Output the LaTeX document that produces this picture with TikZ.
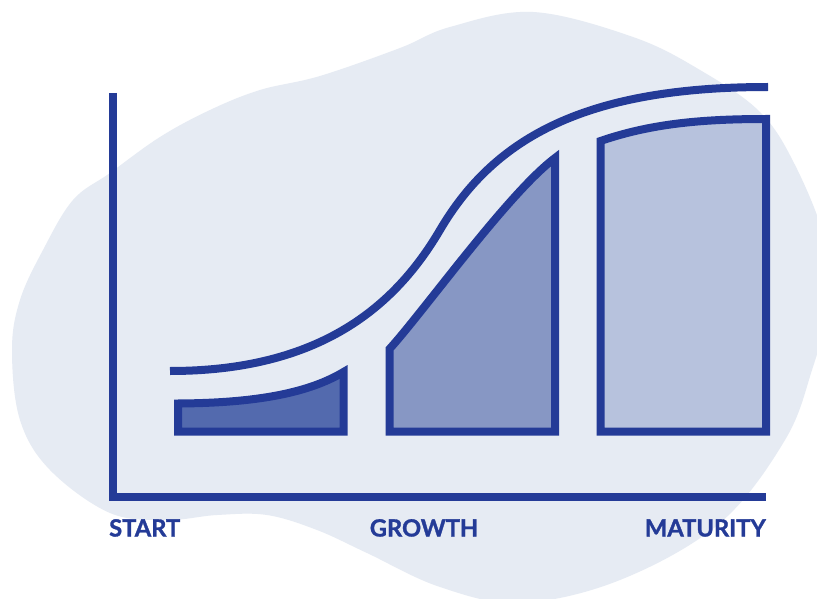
\documentclass[tikz,border=0pt]{standalone}
\usepackage{fontspec}
\setmainfont{Lato}
\newfontfamily\stagefont{Lato}[BoldFeatures={FakeBold=1.3}]
\definecolor{chartblue}{HTML}{243B97}
\definecolor{blobgray}{HTML}{E6EBF3}
\definecolor{barone}{HTML}{536AAE}
\definecolor{bartwo}{HTML}{8797C4}
\definecolor{barthree}{HTML}{B7C2DD}
\begin{document}
\begin{tikzpicture}[x=1pt, y=-1pt, line join=miter,
  ink/.style={draw=chartblue, line width=8pt},
  stagelabel/.style={inner sep=0pt, text=chartblue,
    font=\stagefont\fontsize{23.7}{24}\selectfont\bfseries}]
  \useasboundingbox (0,0) rectangle (817,599);
  \fill[white] (0,0) rectangle (817,599);

  % soft background blob
  \begin{scope}
    \clip (0,0) rectangle (817,599);
    \fill[blobgray] plot[smooth cycle, tension=0.6] coordinates {
      (533,12) (633,37) (700,70) (760,112) (795,165) (825,240) (830,300)
      (812,370) (785,440) (720,523) (620,580) (520,603) (440,587)
      (367,553) (317,530) (267,515) (217,515) (167,520) (110,513)
      (50,470) (20,420) (12,350) (20,300) (43,250) (73,200) (110,173)
      (160,137) (210,110) (260,90) (320,76) (400,48) (450,27)};
  \end{scope}

  % axes
  \draw[ink] (113,93) -- (113,497) -- (766,497);

  % growth curve
  \draw[ink] (170,371) .. controls (320,371) and (395,306.5) .. (440,230)
                       .. controls (495,136.5) and (587,87) .. (768,87);

  % stage areas
  \filldraw[ink, fill=barone] (178,431.5) -- (178,403.5)
    .. controls (260,403) and (310,392) .. (343.5,372) -- (343.5,431.5) -- cycle;
  \filldraw[ink, fill=bartwo] (389.5,431.5) -- (389.5,349)
    .. controls (424.7,310.1) and (508.5,192.9) .. (555,158) -- (555,431.5) -- cycle;
  \filldraw[ink, fill=barthree] (600.5,431.5) -- (600.5,141)
    .. controls (650,124) and (700,119) .. (766,119) -- (766,431.5) -- cycle;

  % stage labels
  \node[stagelabel, anchor=base west] (start) at (109,536.5) {START};
  \node[stagelabel, anchor=base] (growth) at (424,536.5) {GROWTH};
  \node[stagelabel, anchor=base east] (maturity) at (766,536.5) {MATURITY};
\end{tikzpicture}
\end{document}
